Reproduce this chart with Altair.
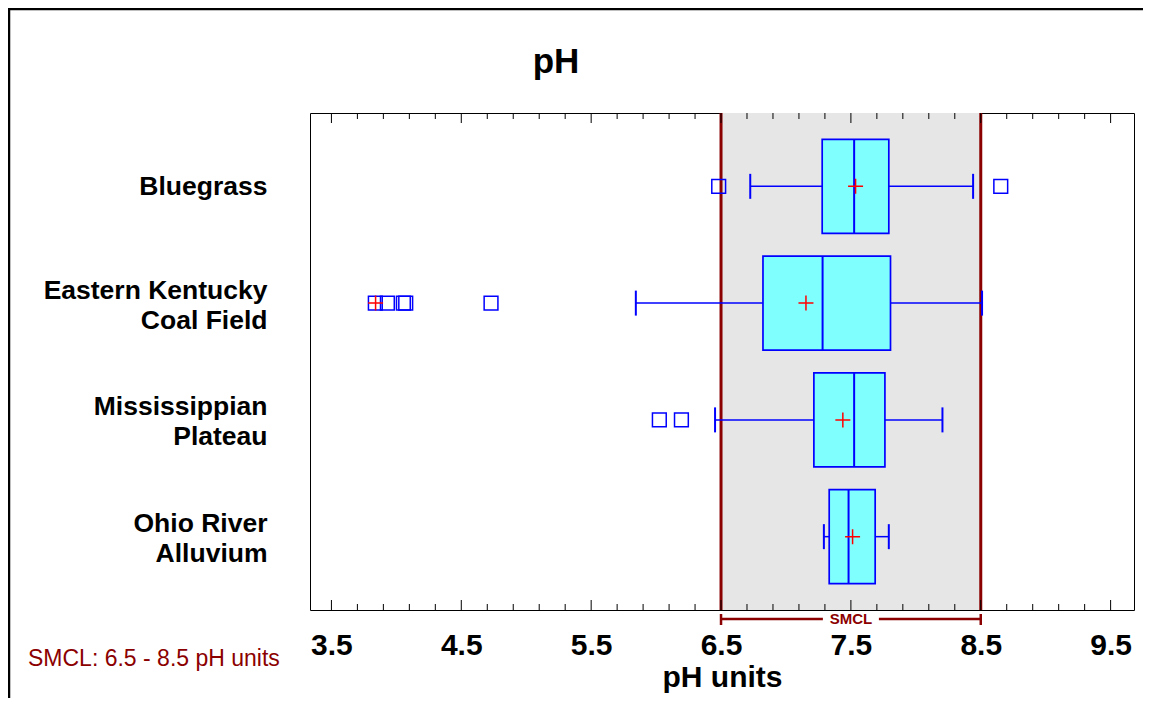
import altair as alt
import pandas as pd

# ---------------- data ----------------
categories = ["Bluegrass", "Eastern Kentucky\nCoal Field", "Mississippian\nPlateau", "Ohio River\nAlluvium"]
whisker_low = [6.725, 5.844, 6.454, 7.292]
q1 = [7.279, 6.823, 7.215, 7.333]
median = [7.525, 7.282, 7.525, 7.482]
q3 = [7.792, 7.805, 7.762, 7.687]
whisker_high = [8.441, 8.510, 8.205, 7.792]
mean = [7.536, 7.154, 7.438, 7.513]

outlier_cat = ["Bluegrass", "Bluegrass",
               "Eastern Kentucky\nCoal Field", "Eastern Kentucky\nCoal Field",
               "Eastern Kentucky\nCoal Field", "Eastern Kentucky\nCoal Field",
               "Eastern Kentucky\nCoal Field",
               "Mississippian\nPlateau", "Mississippian\nPlateau"]
outlier_val = [6.482, 8.654, 3.838, 3.931, 4.054, 4.072, 4.729, 6.025, 6.195]

extreme_cat = ["Eastern Kentucky\nCoal Field"]
extreme_val = [3.840]

smcl_low = 6.5
smcl_high = 8.5
tick_labels = [3.5, 4.5, 5.5, 6.5, 7.5, 8.5, 9.5]
minor_ticks = [3.7, 3.9, 4.1, 4.3, 4.7, 4.9, 5.1, 5.3, 5.7, 5.9, 6.1, 6.3,
               6.7, 6.9, 7.1, 7.3, 7.7, 7.9, 8.1, 8.3, 8.7, 8.9, 9.1, 9.3]
x_domain = [3.335, 9.68]

# ---------------- styles ----------------
W, H = 824, 497
BLUE = "#0000FF"
CYAN = "#80FFFF"
RED = "#FF0000"
DARKRED = "#8B0000"
SHADE = "#E6E6E6"
FONT = "Liberation Sans"

box_df = pd.DataFrame({"cat": categories, "wlo": whisker_low, "q1": q1, "med": median,
                       "q3": q3, "whi": whisker_high, "mean": mean})
out_df = pd.DataFrame({"cat": outlier_cat, "val": outlier_val})
ext_df = pd.DataFrame({"cat": extreme_cat, "val": extreme_val})
smcl_df = pd.DataFrame({"lo": [smcl_low], "hi": [smcl_high], "mid": [(smcl_low + smcl_high) / 2], "label": ["SMCL"]})
smcl_lines = pd.DataFrame({"v": [smcl_low, smcl_high]})
major_df = pd.DataFrame({"v": tick_labels})
minor_df = pd.DataFrame({"v": minor_ticks})
one = pd.DataFrame({"a": [0]})

xs = alt.Scale(domain=x_domain, nice=False, zero=False)
ys = alt.Scale(type="point", domain=categories, padding=0.628)

x_axis = alt.Axis(values=tick_labels, format=".1f", ticks=False, domain=False, grid=False,
                  labelFont=FONT, labelFontSize=30, labelFontWeight="bold", labelColor="black",
                  labelPadding=20, labelFlush=False,
                  title="pH units", titleFont=FONT, titleFontSize=30, titleFontWeight="bold",
                  titleColor="black", titlePadding=2)
y_axis = alt.Axis(title=None, ticks=False, domain=False, grid=False,
                  labelFont=FONT, labelFontSize=26.5, labelFontWeight="bold", labelColor="black",
                  labelPadding=43, labelLimit=500, labelLineHeight=30,
                  labelBaseline={"condition": {"test": "indexof(datum.label, '\\n') >= 0",
                                               "value": "line-bottom"},
                                 "value": "middle"},
                  labelOffset={"condition": {"test": "indexof(datum.label, '\\n') >= 0",
                                             "value": 2},
                               "value": 0},
                  labelExpr="split(datum.label, '\\n')")


def X(field):
    return alt.X(field, scale=xs, axis=x_axis, title="pH units")


def Y(field):
    return alt.Y(field, scale=ys, axis=y_axis, title=None)


shade = alt.Chart(smcl_df).mark_rect(color=SHADE).encode(
    x=X("lo:Q"), x2="hi:Q", y=alt.value(0), y2=alt.value(H))

red_lines = alt.Chart(smcl_lines).mark_rule(color=DARKRED, strokeWidth=3).encode(
    x=X("v:Q"), y=alt.value(0), y2=alt.value(H))

tick_layers = []
for df, ln in ((major_df, 10), (minor_df, 6)):
    tick_layers.append(alt.Chart(df).mark_rule(color="black", strokeWidth=1).encode(
        x=X("v:Q"), y=alt.value(H - ln), y2=alt.value(H)))
    tick_layers.append(alt.Chart(df).mark_rule(color="black", strokeWidth=1).encode(
        x=X("v:Q"), y=alt.value(0), y2=alt.value(ln)))

bracket = alt.Chart(smcl_df).mark_rule(color=DARKRED, strokeWidth=2.5).encode(
    x=X("lo:Q"), x2="hi:Q", y=alt.value(506))
bracket_ends = alt.Chart(smcl_lines).mark_rule(color=DARKRED, strokeWidth=2.5).encode(
    x=X("v:Q"), y=alt.value(501), y2=alt.value(512))
bracket_mask = alt.Chart(smcl_df).mark_point(shape="M-1,-0.25H1V0.25H-1Z", filled=True,
                                             color="white", size=3136, opacity=1,
                                             strokeWidth=0).encode(
    x=X("mid:Q"), y=alt.value(506))
bracket_text = alt.Chart(smcl_df).mark_text(font=FONT, fontSize=15, fontWeight="bold",
                                            color=DARKRED, baseline="middle").encode(
    x=X("mid:Q"), y=alt.value(506), text="label:N")

whisk_lo = alt.Chart(box_df).mark_rule(color=BLUE, strokeWidth=1.5).encode(
    x=X("wlo:Q"), x2="q1:Q", y=Y("cat:N"))
whisk_hi = alt.Chart(box_df).mark_rule(color=BLUE, strokeWidth=1.5).encode(
    x=X("q3:Q"), x2="whi:Q", y=Y("cat:N"))
cap_lo = alt.Chart(box_df).mark_tick(color=BLUE, size=25, thickness=2, opacity=1).encode(
    x=X("wlo:Q"), y=Y("cat:N"))
cap_hi = alt.Chart(box_df).mark_tick(color=BLUE, size=25, thickness=2, opacity=1).encode(
    x=X("whi:Q"), y=Y("cat:N"))
boxes = alt.Chart(box_df).mark_bar(size=94, fill=CYAN, stroke=BLUE, strokeWidth=1.7, opacity=1).encode(
    x=X("q1:Q"), x2="q3:Q", y=Y("cat:N"))
med = alt.Chart(box_df).mark_tick(color=BLUE, size=94, thickness=2, opacity=1).encode(
    x=X("med:Q"), y=Y("cat:N"))
outl = alt.Chart(out_df).mark_point(shape="square", filled=False, size=190, stroke=BLUE,
                                    strokeWidth=1.5, opacity=1).encode(
    x=X("val:Q"), y=Y("cat:N"))
CROSS = "M-1,0H1M0,-1V1"
means = alt.Chart(box_df).mark_point(shape=CROSS, filled=False, size=225, stroke=RED,
                                     strokeWidth=1.5, opacity=1).encode(
    x=X("mean:Q"), y=Y("cat:N"))
extreme = alt.Chart(ext_df).mark_point(shape=CROSS, filled=False, size=225, stroke=RED,
                                       strokeWidth=1.5, opacity=1).encode(
    x=X("val:Q"), y=Y("cat:N"))

title = alt.Chart(one).mark_text(text="pH", font=FONT, fontSize=35, fontWeight="bold",
                                 color="black", align="center", baseline="middle").encode(
    x=alt.value(246), y=alt.value(-51))
note = alt.Chart(one).mark_text(text="SMCL: 6.5 - 8.5 pH units", font=FONT, fontSize=23,
                                color=DARKRED, align="left", baseline="middle").encode(
    x=alt.value(-282), y=alt.value(546))
border_left = alt.Chart(one).mark_rule(color="black", strokeWidth=2.5).encode(
    x=alt.value(-301), y=alt.value(-106), y2=alt.value(H + 90))
border_top = alt.Chart(one).mark_rule(color="black", strokeWidth=2.5).encode(
    x=alt.value(-302), x2=alt.value(W + 12), y=alt.value(-104))

chart = alt.layer(
    shade, red_lines, *tick_layers, bracket, bracket_ends, bracket_mask, bracket_text,
    whisk_lo, whisk_hi, boxes, med, cap_lo, cap_hi, outl, means, extreme,
    title, note, border_left, border_top
).properties(
    width=W, height=H,
    autosize=alt.AutoSizeParams(type="none"),
    padding={"left": 302, "top": 105, "right": 9, "bottom": 88},
    background="white",
).configure_view(stroke="black", strokeWidth=1)

chart.save("out.html", embed_options={"renderer": "svg", "actions": False})
